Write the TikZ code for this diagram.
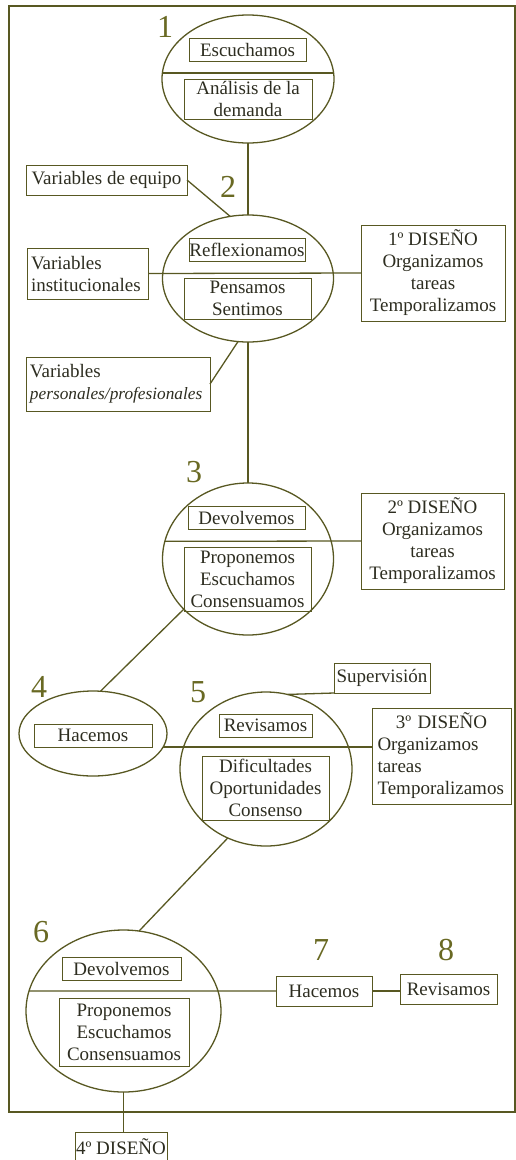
\documentclass[tikz,border=0pt]{standalone}
\usepackage{fontspec}
\setmainfont{Liberation Serif}
\usetikzlibrary{shapes.geometric}
\definecolor{olivel}{RGB}{88,88,34}
\definecolor{numc}{RGB}{105,105,35}
\definecolor{txtc}{RGB}{45,45,32}
\begin{document}
\begin{tikzpicture}[x=1pt,y=-1pt,
  ell/.style={ellipse, draw=olivel, line width=1.3pt, inner sep=0pt, outer sep=0pt},
  bx/.style={draw=olivel, line width=0.9pt, inner sep=0pt, outer sep=0pt, text=txtc, align=center, font=\fontsize{19}{22}\selectfont},
  conn/.style={draw=olivel, line width=1.3pt},
  num/.style={text=numc, font=\fontsize{32}{32}\selectfont, inner sep=0pt}]
\useasboundingbox (0,0) rectangle (516,1160);
\draw[olivel, line width=1.4pt] (9,6) rectangle (515,1112);

% ellipses
\node[ell, minimum width=172pt, minimum height=128pt] (e1) at (248,79) {};
\node[ell, minimum width=171pt, minimum height=127pt] (e2) at (248,278.5) {};
\node[ell, minimum width=171pt, minimum height=152pt] (e3) at (248,559) {};
\node[ell, minimum width=148pt, minimum height=85pt] (e4) at (93,733.5) {};
\node[ell, minimum width=172pt, minimum height=154pt] (e5) at (266,769) {};
\node[ell, minimum width=195pt, minimum height=162pt] (e6) at (123.5,1011) {};

% numbers
\node[num] (n1) at (165,27) {1};
\node[num] (n2) at (228,187) {2};
\node[num] (n3) at (194,472) {3};
\node[num] (n4) at (39,687) {4};
\node[num] (n5) at (198,692) {5};
\node[num] (n6) at (41,932) {6};
\node[num] (n7) at (321,950) {7};
\node[num] (n8) at (446,950) {8};

% boxes in ellipses
\node[bx, minimum width=117pt, minimum height=23pt] (b1a) at (247.5,49.5) {Escuchamos};
\node[bx, minimum width=128pt, minimum height=40pt] (b1b) at (248,99) {Análisis de la\\demanda};
\node[bx, minimum width=116pt, minimum height=23pt] (b2a) at (247,249.5) {Reflexionamos};
\node[bx, minimum width=127pt, minimum height=41pt] (b2b) at (247.5,298.5) {Pensamos\\Sentimos};
\node[bx, minimum width=117pt, minimum height=23pt] (b3a) at (246.5,517.5) {Devolvemos};
\node[bx, minimum width=127pt, minimum height=64pt] (b3b) at (247.5,579) {Proponemos\\Escuchamos\\Consensuamos};
\node[bx, minimum width=118pt, minimum height=23pt] (h4) at (93,735.5) {Hacemos};
\node[bx, minimum width=93pt, minimum height=23pt] (b5a) at (265.5,725.5) {Revisamos};
\node[bx, minimum width=127pt, minimum height=64pt] (b5b) at (265.5,788) {Dificultades\\Oportunidades\\Consenso};
\node[bx, minimum width=119pt, minimum height=23pt] (b6a) at (121.5,968.5) {Devolvemos};
\node[bx, minimum width=130pt, minimum height=68pt] (b6b) at (124,1032) {Proponemos\\Escuchamos\\Consensuamos};

% side boxes
\node[bx, minimum width=161pt, minimum height=30pt] (ve) at (106.5,180) {Variables de equipo};
\node[bx, align=left, text width=113pt, inner xsep=4pt, minimum height=51pt] (vi) at (87.5,273.5) {Variables\\institucionales};
\node[bx, align=left, text width=176pt, inner xsep=4pt, minimum height=54pt] (vp) at (118,384) {Variables\\{\fontsize{17.3}{22}\selectfont\itshape personales/profesionales}};
\node[bx, minimum width=144pt, minimum height=96pt] (d1) at (433,273) {1º DISEÑO\\Organizamos\\tareas\\Temporalizamos};
\node[bx, minimum width=143pt, minimum height=96pt] (d2) at (432.5,541) {2º DISEÑO\\Organizamos\\tareas\\Temporalizamos};
\node[bx, minimum width=96pt, minimum height=30pt] (sup) at (382,678) {Supervisión};
\node[bx, align=left, text width=128pt, inner xsep=5.5pt, minimum height=96pt] (d3) at (441.5,756) {\makebox[128pt][c]{3º DISEÑO}\\Organizamos\\tareas\\Temporalizamos};
\node[bx, minimum width=96pt, minimum height=30pt] (h7) at (324,991) {Hacemos};
\node[bx, minimum width=97pt, minimum height=30pt] (r8) at (448.5,989) {Revisamos};
\node[bx, minimum width=92pt, minimum height=30pt] (d4) at (121,1147) {4º DISEÑO};

% connectors
\draw[conn] (e1.south) -- (e2.north);
\draw[conn] (e1.176) -- (e1.4);
\draw[conn] (ve.east) -- (e2.106);
\draw[conn] (vi.east) -- (d1.west);
\draw[conn] (vp.east) -- (e2.261);
\draw[conn] (e2.south) -- (e3.north);
\draw[conn] (e3.168) -- (d2.west);
\draw[conn] (e3.218) -- (e4.80);
\draw[conn] (e4.-11) -- (e4.-11 -| d3.west);
\draw[conn] (e5.74) -- (sup.south west);
\draw[conn] (e5.241) -- (e6.79);
\draw[conn] (e6.168) -- (h7.west);
\draw[conn] (h7.east) -- (h7.east -| r8.west);
\draw[conn] (e6.south) -- (e6.south |- d4.north);
\end{tikzpicture}
\end{document}
